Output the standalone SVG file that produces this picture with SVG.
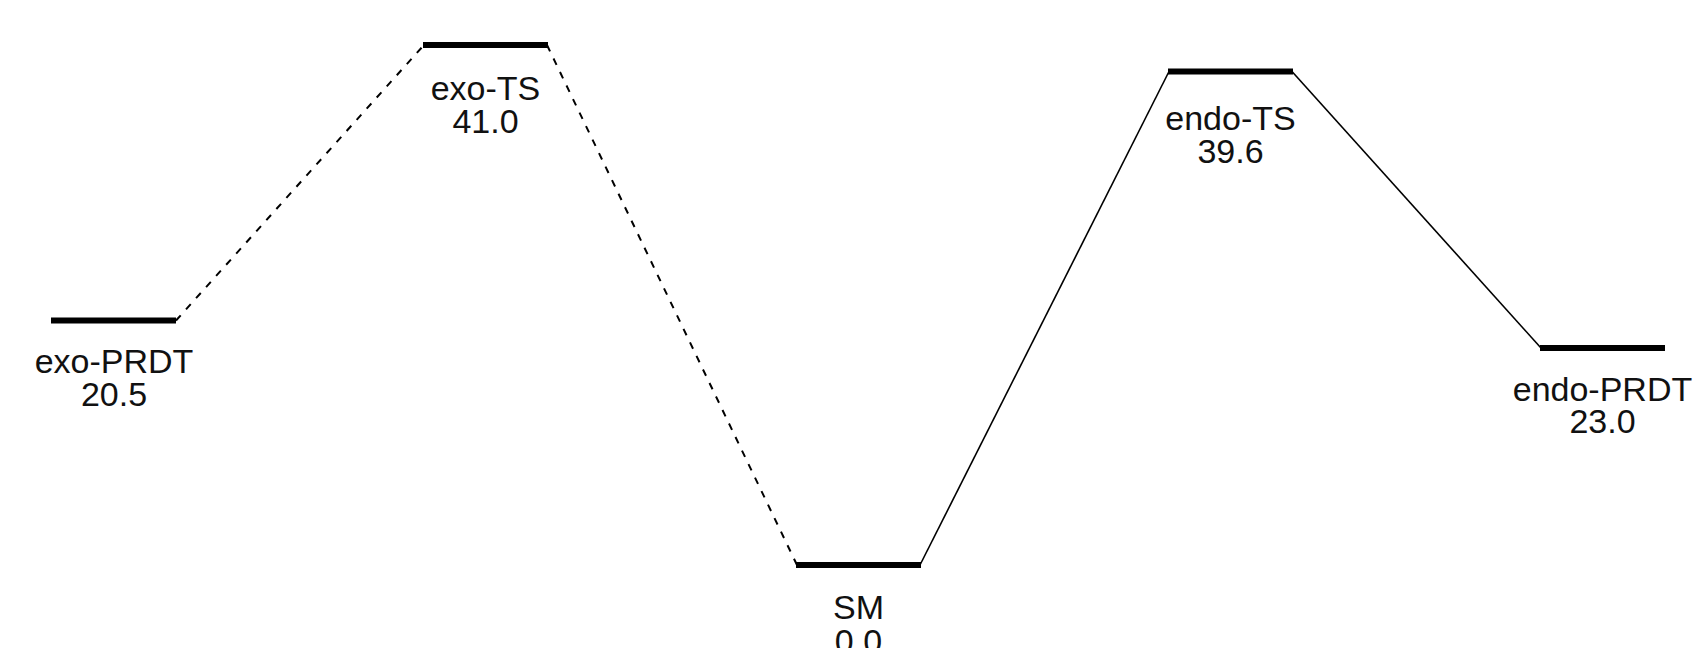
<svg xmlns="http://www.w3.org/2000/svg" width="1707" height="648" viewBox="0 0 1707 648">
  <style>
    .level { stroke: #000; stroke-width: 6; }
    .path { stroke: #000; stroke-width: 1.6; fill: none; }
    .dashed { stroke-width: 2; stroke-dasharray: 7 8; }
    .label { font-family: "Liberation Sans", Arial, sans-serif; font-size: 34px; fill: #111; text-anchor: middle; }
  </style>
  <rect width="1707" height="648" fill="#fff"/>

  <!-- reaction paths between energy levels -->
  <g id="connectors">
    <line class="path dashed" x1="176" y1="320.5" x2="424" y2="45"/>
    <line class="path dashed" x1="547" y1="45" x2="797" y2="565"/>
    <line class="path" x1="920" y1="565" x2="1169" y2="71.5"/>
    <line class="path" x1="1292" y1="71.5" x2="1541" y2="348"/>
  </g>

  <g id="exo-PRDT">
    <line class="level" x1="51" y1="320.5" x2="176" y2="320.5"/>
    <text class="label" x="114" y="373">exo-PRDT</text>
    <text class="label" x="114" y="406">20.5</text>
  </g>

  <g id="exo-TS">
    <line class="level" x1="423" y1="45" x2="548" y2="45"/>
    <text class="label" x="485.5" y="100">exo-TS</text>
    <text class="label" x="485.5" y="133">41.0</text>
  </g>

  <g id="SM">
    <line class="level" x1="796" y1="565" x2="921" y2="565"/>
    <text class="label" x="858.5" y="619">SM</text>
    <text class="label" x="858.5" y="653">0.0</text>
  </g>

  <g id="endo-TS">
    <line class="level" x1="1168" y1="71.5" x2="1293" y2="71.5"/>
    <text class="label" x="1230.5" y="130">endo-TS</text>
    <text class="label" x="1230.5" y="163">39.6</text>
  </g>

  <g id="endo-PRDT">
    <line class="level" x1="1540" y1="348" x2="1665" y2="348"/>
    <text class="label" x="1602.5" y="401">endo-PRDT</text>
    <text class="label" x="1602.5" y="433">23.0</text>
  </g>
</svg>
